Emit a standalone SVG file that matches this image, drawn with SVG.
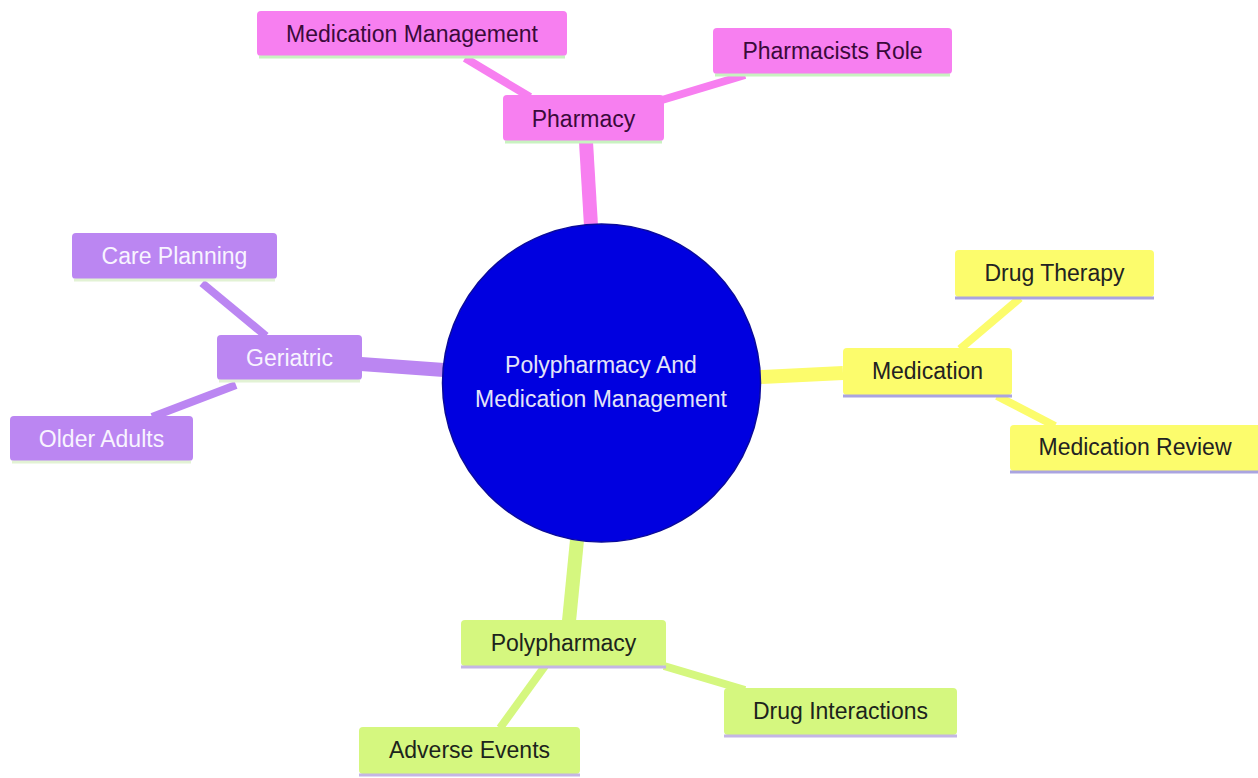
<svg xmlns="http://www.w3.org/2000/svg" width="1258" height="778" viewBox="0 0 1258 778">
<style>
text{font-family:"Liberation Sans",Arial,sans-serif;font-size:23px;text-anchor:middle;}
.pk rect{fill:#f77ff0;} .pk text{fill:#3a0a3a;} .pk line{stroke:#c8f2c0;}
.pu rect{fill:#bb86f2;} .pu text{fill:#f8f4ff;} .pu line{stroke:#e2f2d4;}
.ye rect{fill:#fcfc6c;} .ye text{fill:#222222;} .ye line{stroke:#aaa4e0;}
.gr rect{fill:#d5f77f;} .gr text{fill:#1c241c;} .gr line{stroke:#c4b6e4;}
.b{stroke-width:3;}
.e{fill:none;stroke-linecap:butt;}
.main{stroke-width:14;} .sub{stroke-width:8;}
</style>
<rect width="1258" height="778" fill="#ffffff"/>
<g id="connectors">
<line class="e main" x1="591" y1="226" x2="586" y2="142" stroke="#f77ff0"/>
<line class="e main" x1="444" y1="370" x2="361" y2="364" stroke="#bb86f2"/>
<line class="e main" x1="760" y1="377" x2="843" y2="373" stroke="#fcfc6c"/>
<line class="e main" x1="577" y1="540" x2="569" y2="621" stroke="#d5f77f"/>
<line class="e sub" x1="465" y1="58" x2="530" y2="97" stroke="#f77ff0"/>
<line class="e sub" x1="745" y1="75" x2="662" y2="100" stroke="#f77ff0"/>
<line class="e sub" x1="202" y1="283" x2="266" y2="336" stroke="#bb86f2"/>
<line class="e sub" x1="236" y1="385" x2="152" y2="417" stroke="#bb86f2"/>
<line class="e sub" x1="1020" y1="298" x2="960" y2="349" stroke="#fcfc6c"/>
<line class="e sub" x1="997" y1="396" x2="1055" y2="426" stroke="#fcfc6c"/>
<line class="e sub" x1="545" y1="666" x2="500" y2="728" stroke="#d5f77f"/>
<line class="e sub" x1="664" y1="666" x2="745" y2="690" stroke="#d5f77f"/>
</g>
<g id="root">
<circle cx="601.5" cy="383" r="159" fill="#0000e0" stroke="#0a0a9a" stroke-width="1.5"/>
<text x="601" y="373" fill="#e4e4f8">Polypharmacy And</text>
<text x="601" y="407" fill="#e4e4f8">Medication Management</text>
</g>
<g id="pharmacy" class="pk">
<rect x="503" y="95" width="161" height="46" rx="4"/><line class="b" x1="505" y1="142" x2="662" y2="142"/>
<text x="583.5" y="127">Pharmacy</text>
</g>
<g id="medication-management" class="pk">
<rect x="257" y="11" width="310" height="45" rx="4"/><line class="b" x1="259" y1="57" x2="565" y2="57"/>
<text x="412" y="42">Medication Management</text>
</g>
<g id="pharmacists-role" class="pk">
<rect x="713" y="28" width="239" height="46" rx="4"/><line class="b" x1="715" y1="75" x2="950" y2="75"/>
<text x="832.5" y="59">Pharmacists Role</text>
</g>
<g id="geriatric" class="pu">
<rect x="217" y="335" width="145" height="45" rx="4"/><line class="b" x1="219" y1="381" x2="360" y2="381"/>
<text x="289.5" y="366">Geriatric</text>
</g>
<g id="care-planning" class="pu">
<rect x="72" y="233" width="205" height="46" rx="4"/><line class="b" x1="74" y1="280" x2="275" y2="280"/>
<text x="174.5" y="264">Care Planning</text>
</g>
<g id="older-adults" class="pu">
<rect x="10" y="416" width="183" height="45" rx="4"/><line class="b" x1="12" y1="462" x2="191" y2="462"/>
<text x="101.5" y="447">Older Adults</text>
</g>
<g id="medication" class="ye">
<rect x="843" y="348" width="169" height="47" rx="4"/><line class="b" x1="843" y1="396" x2="1012" y2="396"/>
<text x="927.5" y="379">Medication</text>
</g>
<g id="drug-therapy" class="ye">
<rect x="955" y="250" width="199" height="47" rx="4"/><line class="b" x1="955" y1="298" x2="1154" y2="298"/>
<text x="1054.5" y="281">Drug Therapy</text>
</g>
<g id="medication-review" class="ye">
<rect x="1010" y="425" width="252" height="46" rx="4"/><line class="b" x1="1010" y1="472" x2="1258" y2="472"/>
<text x="1135" y="455">Medication Review</text>
</g>
<g id="polypharmacy" class="gr">
<rect x="461" y="620" width="205" height="46" rx="4"/><line class="b" x1="461" y1="667" x2="666" y2="667"/>
<text x="563.5" y="651">Polypharmacy</text>
</g>
<g id="drug-interactions" class="gr">
<rect x="724" y="688" width="233" height="47" rx="4"/><line class="b" x1="724" y1="736" x2="957" y2="736"/>
<text x="840.5" y="719">Drug Interactions</text>
</g>
<g id="adverse-events" class="gr">
<rect x="359" y="727" width="221" height="47" rx="4"/><line class="b" x1="359" y1="775" x2="580" y2="775"/>
<text x="469.5" y="758">Adverse Events</text>
</g>
</svg>
